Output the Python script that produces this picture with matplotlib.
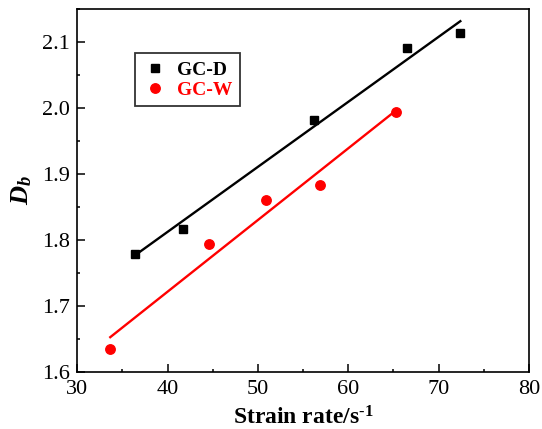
import numpy as np
import matplotlib
matplotlib.use("Agg")
import matplotlib.pyplot as plt
from matplotlib.ticker import MultipleLocator

gcd_x = [36.34, 41.67, 56.19, 66.48, 72.40]
gcd_y = [1.779, 1.817, 1.982, 2.091, 2.113]
gcw_x = [33.65, 44.63, 50.85, 56.88, 65.29]
gcw_y = [1.635, 1.794, 1.860, 1.883, 1.994]

plt.rcParams['font.family'] = ['Liberation Serif', 'DejaVu Serif']
plt.rcParams['mathtext.fontset'] = 'custom'
plt.rcParams['mathtext.rm'] = 'Liberation Serif:bold'
plt.rcParams['mathtext.it'] = 'Liberation Serif:italic:bold'
plt.rcParams['mathtext.bf'] = 'Liberation Serif:bold'

fig = plt.figure(figsize=(5.42, 4.29), dpi=100)
ax = fig.add_axes([0.1426, 0.1329, 0.8334, 0.846])

def fit_line(x, y):
    k, b = np.polyfit(x, y, 1)
    xs = np.array([min(x), max(x)])
    return xs, k * xs + b

xs, ys = fit_line(gcd_x, gcd_y)
ax.plot(xs, ys, color='black', lw=1.7)
xs, ys = fit_line(gcw_x, gcw_y)
ax.plot(xs, ys, color='red', lw=1.7)

ax.plot(gcd_x, gcd_y, 's', color='black', ms=6.3, label='GC-D', zorder=3)
ax.plot(gcw_x, gcw_y, 'o', color='red', ms=6.8, label='GC-W', zorder=3)

ax.set_xlim(30, 80)
ax.set_ylim(1.6, 2.15)
ax.xaxis.set_major_locator(MultipleLocator(10))
ax.xaxis.set_minor_locator(MultipleLocator(5))
ax.yaxis.set_major_locator(MultipleLocator(0.1))
ax.yaxis.set_minor_locator(MultipleLocator(0.05))
ax.tick_params(which='both', direction='in', top=False, right=False, labelsize=16, width=1.1)
ax.tick_params(which='major', length=5.5)
ax.tick_params(which='minor', length=2.5)
ax.tick_params(axis='x', which='major', pad=6)
ax.tick_params(axis='y', which='major', pad=5)
for s in ax.spines.values():
    s.set_linewidth(1.2)

ax.set_xlabel('Strain rate/s$^{\\text{-1}}$', fontsize=17, fontweight='bold', labelpad=5)
ax.set_ylabel('$D_b$', fontsize=19, labelpad=6)

leg = ax.legend(loc='upper left', bbox_to_anchor=(0.128, 0.878), borderaxespad=0, frameon=True,
                fancybox=False, edgecolor='black', prop={'weight': 'bold', 'size': 14},
                handletextpad=0.56, borderpad=0.4, labelspacing=0.12, handlelength=1.2)
leg.get_frame().set_linewidth(1.3)
for t, c in zip(leg.get_texts(), ['black', 'red']):
    t.set_color(c)

fig.savefig('out.png', dpi=100)
